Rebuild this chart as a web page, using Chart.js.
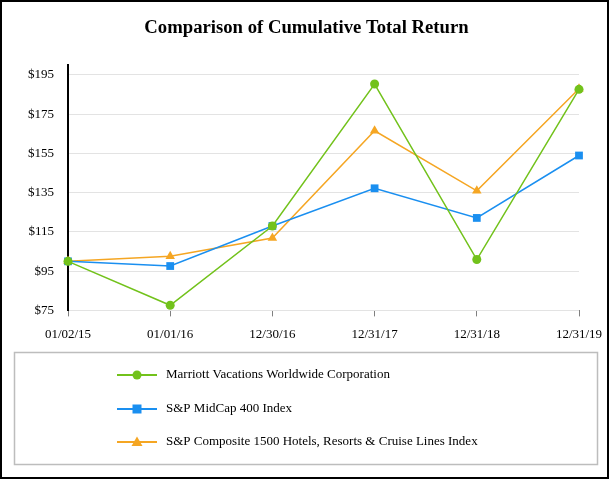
<!DOCTYPE html>
<html>
<head>
<meta charset="utf-8">
<script src="https://cdn.jsdelivr.net/npm/chart.js@4/dist/chart.umd.min.js"></script>
<style>
  html, body { margin: 0; padding: 0; background: #fff; }
  #wrap { width: 613px; height: 480px; position: relative; }
</style>
</head>
<body>
<div id="wrap"><canvas id="chart"></canvas></div>
<script>
// Data
const periods = ['01/02/15', '01/01/16', '12/30/16', '12/31/17', '12/31/18', '12/31/19'];
const marriott = [100, 77.6, 118, 190.3, 100.9, 187.6];
const midCap = [100, 97.6, 118, 137.2, 122.1, 153.9];
const hotels = [100, 102.6, 111.9, 166.5, 135.9, 187.9];
const yTickValues = [75, 95, 115, 135, 155, 175, 195];

const chartTitle = 'Comparison of Cumulative Total Return';
const seriesNames = [
  'Marriott Vacations Worldwide Corporation',
  'S&P MidCap 400 Index',
  'S&P Composite 1500 Hotels, Resorts & Cruise Lines Index'
];

const GREEN = '#72c21b';
const BLUE = '#1a8ff0';
const ORANGE = '#f5a623';
const FONT = "'Liberation Serif', 'Times New Roman', serif";

// Draws the outer frame, centred title and the boxed legend below the chart
const frameAndLegend = {
  id: 'frameAndLegend',
  afterDraw(chart) {
    const ctx = chart.ctx;
    ctx.save();
    // outer frame
    ctx.strokeStyle = '#000';
    ctx.lineWidth = 2;
    ctx.strokeRect(1, 1, 607, 477);

    // title centred on the page
    ctx.fillStyle = '#000';
    ctx.font = 'bold 18.7px ' + FONT;
    ctx.textAlign = 'center';
    ctx.textBaseline = 'middle';
    ctx.fillText(chartTitle, 306.5, 28);

    // legend box
    ctx.strokeStyle = '#bdbdbd';
    ctx.lineWidth = 1.5;
    ctx.strokeRect(14.5, 352.5, 583, 112);

    const rows = [375, 409, 442];
    chart.data.datasets.forEach((ds, i) => {
      const y = rows[i];
      const cx = 137;
      ctx.strokeStyle = ds.borderColor;
      ctx.lineWidth = 2;
      ctx.beginPath();
      ctx.moveTo(117, y);
      ctx.lineTo(157, y);
      ctx.stroke();

      ctx.fillStyle = ds.backgroundColor;
      ctx.beginPath();
      if (ds.pointStyle === 'circle') {
        ctx.arc(cx, y, 4.5, 0, Math.PI * 2);
      } else if (ds.pointStyle === 'rect') {
        ctx.rect(cx - 4.5, y - 4.5, 9, 9);
      } else {
        ctx.moveTo(cx, y - 5.5);
        ctx.lineTo(cx + 5.5, y + 4);
        ctx.lineTo(cx - 5.5, y + 4);
        ctx.closePath();
      }
      ctx.fill();

      ctx.fillStyle = '#000';
      ctx.font = '13px ' + FONT;
      ctx.textBaseline = 'middle';
      ctx.textAlign = 'left';
      ctx.fillText(ds.label, 166, y);
    });
    ctx.restore();
  }
};

const ctx = document.getElementById('chart').getContext('2d');
window.returnChart = new Chart(ctx, {
  type: 'line',
  data: {
    labels: periods,
    datasets: [
      {
        label: seriesNames[0],
        data: marriott,
        borderColor: GREEN,
        backgroundColor: GREEN,
        pointStyle: 'circle',
        pointRadius: 4.5
      },
      {
        label: seriesNames[1],
        data: midCap,
        borderColor: BLUE,
        backgroundColor: BLUE,
        pointStyle: 'rect',
        pointRadius: 5.5
      },
      {
        label: seriesNames[2],
        data: hotels,
        borderColor: ORANGE,
        backgroundColor: ORANGE,
        pointStyle: 'triangle',
        pointRadius: 5.5
      }
    ]
  },
  options: {
    responsive: true,
    maintainAspectRatio: false,
    animation: false,
    elements: {
      line: { borderWidth: 1.5, tension: 0 },
      point: { borderWidth: 0, hoverRadius: 5 }
    },
    datasets: { line: { clip: false } },
    layout: {
      padding: { left: 14, right: 34, top: 65, bottom: 128 }
    },
    plugins: {
      legend: { display: false },
      tooltip: { enabled: false },
      title: { display: false }
    },
    scales: {
      x: {
        offset: false,
        border: { display: false },
        grid: {
          drawOnChartArea: false,
          drawTicks: true,
          tickLength: 6,
          color: '#808080',
          lineWidth: 1
        },
        ticks: {
          color: '#000',
          font: { family: FONT, size: 13 },
          padding: 10,
          maxRotation: 0
        }
      },
      y: {
        min: 75,
        max: 200,
        border: { display: true, color: '#000', width: 2 },
        grid: { color: '#e3e3e3', drawTicks: false, lineWidth: 1 },
        afterBuildTicks: (scale) => {
          scale.ticks = yTickValues.map(v => ({ value: v }));
        },
        ticks: {
          color: '#000',
          font: { family: FONT, size: 13 },
          padding: 14,
          callback: (v) => '$' + v
        }
      }
    }
  },
  plugins: [frameAndLegend]
});
</script>
</body>
</html>
